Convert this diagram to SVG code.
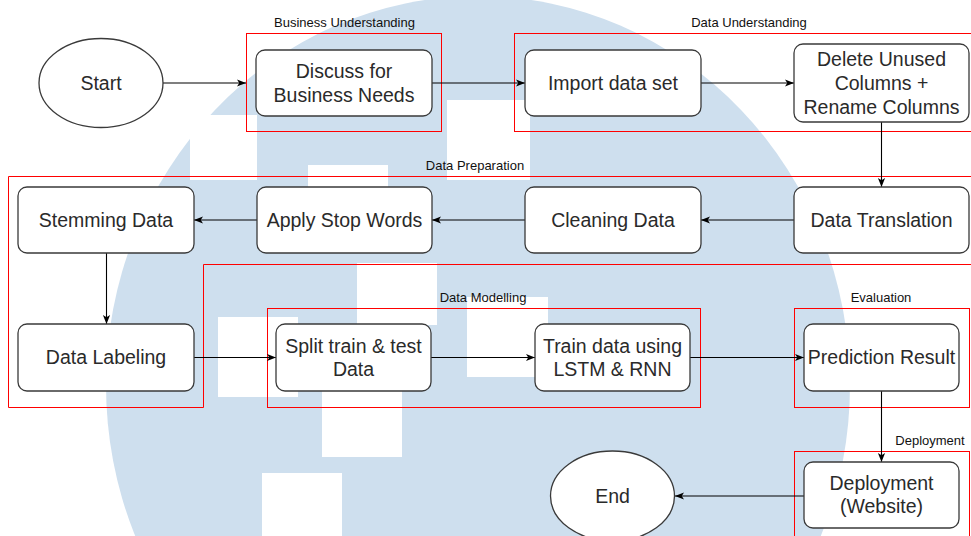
<svg xmlns="http://www.w3.org/2000/svg" width="971" height="536" viewBox="0 0 971 536">
  <defs>
    <style>
      .node { fill: #ffffff; stroke: #3a3a3a; stroke-width: 1.3; }
      .phase { fill: none; stroke: #ff0000; stroke-width: 1; }
      .ntext { font-family: "Liberation Sans", Arial, sans-serif; font-size: 19.5px; fill: #2a2a2a; text-anchor: middle; }
      .ptext { font-family: "Liberation Sans", Arial, sans-serif; font-size: 13px; fill: #111111; text-anchor: middle; }
      .edge { fill: none; stroke: #000000; stroke-width: 1.1; }
      .wm { fill: #cedfee; }
      .wmcut { fill: #ffffff; }
    </style>
    <marker id="arrow" viewBox="0 0 10 10" refX="10" refY="5" markerWidth="9" markerHeight="9" markerUnits="userSpaceOnUse" orient="auto">
      <path d="M0,1 L10,5 L0,9 L2.5,5 z" fill="#000000"/>
    </marker>
  </defs>

  <rect x="0" y="0" width="971" height="536" fill="#ffffff"/>

  <!-- background watermark -->
  <g id="watermark">
    <ellipse class="wm" cx="478" cy="385" rx="372" ry="389"/>
    <rect class="wmcut" x="190" y="115" width="67" height="65"/>
    <rect class="wmcut" x="447" y="100" width="83" height="80"/>
    <rect class="wmcut" x="308" y="165" width="80" height="80"/>
    <rect class="wmcut" x="357" y="263" width="80" height="62"/>
    <rect class="wmcut" x="467" y="297" width="81" height="80"/>
    <rect class="wmcut" x="218" y="317" width="80" height="80"/>
    <rect class="wmcut" x="322" y="380" width="80" height="77"/>
    <rect class="wmcut" x="262" y="473" width="80" height="70"/>
  </g>

  <!-- phase frames -->
  <g id="phases">
    <rect class="phase" x="246.5" y="33.5" width="195" height="98"/>
    <rect class="phase" x="514.5" y="33.5" width="458" height="98"/>
    <path class="phase" d="M973,176.5 H8.5 V407.5 H203.5 V264.5 H973"/>
    <rect class="phase" x="267.5" y="308.5" width="433" height="99"/>
    <rect class="phase" x="794.5" y="308.5" width="175" height="99"/>
    <rect class="phase" x="794.5" y="451.5" width="175" height="100"/>
    <text class="ptext" x="344.5" y="27">Business Understanding</text>
    <text class="ptext" x="749" y="27">Data Understanding</text>
    <text class="ptext" x="475" y="170">Data Preparation</text>
    <text class="ptext" x="483" y="302">Data Modelling</text>
    <text class="ptext" x="881" y="302">Evaluation</text>
    <text class="ptext" x="930" y="445">Deployment</text>
  </g>

  <!-- connectors -->
  <g id="connectors">
    <path class="edge" d="M163,83 H246" marker-end="url(#arrow)"/>
    <path class="edge" d="M432,83 H525" marker-end="url(#arrow)"/>
    <path class="edge" d="M701,83 H794" marker-end="url(#arrow)"/>
    <path class="edge" d="M881.5,122 V187" marker-end="url(#arrow)"/>
    <path class="edge" d="M794,220 H701" marker-end="url(#arrow)"/>
    <path class="edge" d="M525,220 H432" marker-end="url(#arrow)"/>
    <path class="edge" d="M257,220 H194" marker-end="url(#arrow)"/>
    <path class="edge" d="M106.5,253 V324" marker-end="url(#arrow)"/>
    <path class="edge" d="M194,357.5 H276" marker-end="url(#arrow)"/>
    <path class="edge" d="M431,357.5 H535" marker-end="url(#arrow)"/>
    <path class="edge" d="M690,357.5 H804" marker-end="url(#arrow)"/>
    <path class="edge" d="M881.5,391 V462" marker-end="url(#arrow)"/>
    <path class="edge" d="M804,496 H675" marker-end="url(#arrow)"/>
  </g>

  <!-- nodes -->
  <g id="start">
    <ellipse class="node" cx="101" cy="83" rx="62" ry="44.5"/>
    <text class="ntext" x="101" y="90">Start</text>
  </g>
  <g id="discuss">
    <rect class="node" x="256" y="50" width="176" height="66" rx="9"/>
    <text class="ntext" x="344" y="78">Discuss for</text>
    <text class="ntext" x="344" y="102">Business Needs</text>
  </g>
  <g id="import">
    <rect class="node" x="525" y="50" width="176" height="66" rx="9"/>
    <text class="ntext" x="613" y="90">Import data set</text>
  </g>
  <g id="delete-columns">
    <rect class="node" x="794" y="44" width="175" height="78" rx="9"/>
    <text class="ntext" x="881.5" y="66">Delete Unused</text>
    <text class="ntext" x="881.5" y="90">Columns +</text>
    <text class="ntext" x="881.5" y="114">Rename Columns</text>
  </g>
  <g id="translation">
    <rect class="node" x="794" y="187" width="175" height="66" rx="9"/>
    <text class="ntext" x="881.5" y="227">Data Translation</text>
  </g>
  <g id="cleaning">
    <rect class="node" x="525" y="187" width="176" height="66" rx="9"/>
    <text class="ntext" x="613" y="227">Cleaning Data</text>
  </g>
  <g id="stopwords">
    <rect class="node" x="257" y="187" width="175" height="66" rx="9"/>
    <text class="ntext" x="344.5" y="227">Apply Stop Words</text>
  </g>
  <g id="stemming">
    <rect class="node" x="18" y="187" width="176" height="66" rx="9"/>
    <text class="ntext" x="106" y="227">Stemming Data</text>
  </g>
  <g id="labeling">
    <rect class="node" x="18" y="324" width="176" height="67" rx="9"/>
    <text class="ntext" x="106" y="364">Data Labeling</text>
  </g>
  <g id="split">
    <rect class="node" x="276" y="324" width="155" height="67" rx="9"/>
    <text class="ntext" x="353.5" y="353">Split train &amp; test</text>
    <text class="ntext" x="353.5" y="376">Data</text>
  </g>
  <g id="train">
    <rect class="node" x="535" y="324" width="155" height="67" rx="9"/>
    <text class="ntext" x="612.5" y="353">Train data using</text>
    <text class="ntext" x="612.5" y="376">LSTM &amp; RNN</text>
  </g>
  <g id="prediction">
    <rect class="node" x="804" y="324" width="155" height="67" rx="9"/>
    <text class="ntext" x="881.5" y="364">Prediction Result</text>
  </g>
  <g id="deployment">
    <rect class="node" x="804" y="462" width="155" height="66" rx="9"/>
    <text class="ntext" x="881.5" y="490">Deployment</text>
    <text class="ntext" x="881.5" y="513">(Website)</text>
  </g>
  <g id="end">
    <ellipse class="node" cx="612.5" cy="496" rx="62" ry="45"/>
    <text class="ntext" x="612.5" y="503">End</text>
  </g>
</svg>
